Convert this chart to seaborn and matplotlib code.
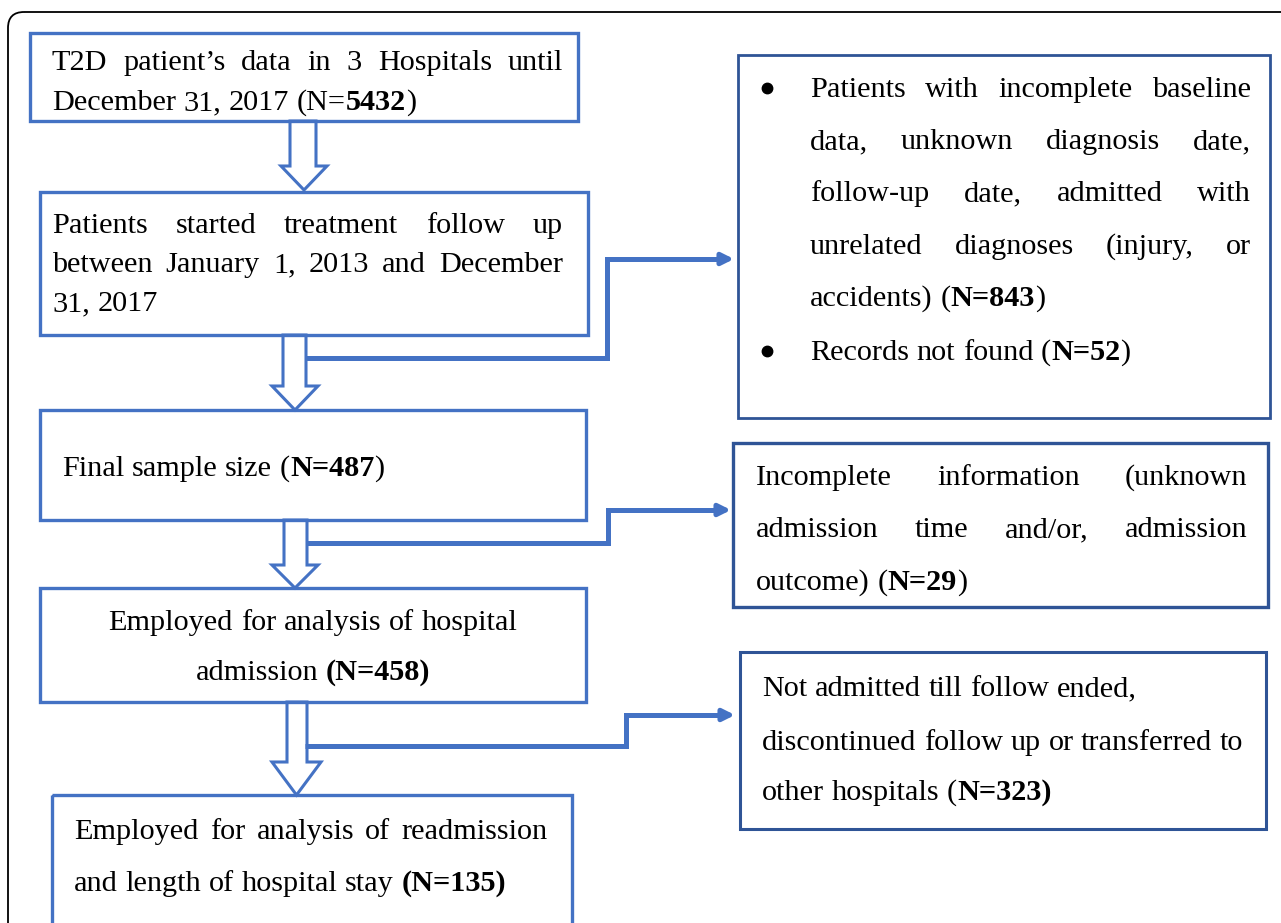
## T2D patient flow diagram

import matplotlib
matplotlib.use('Agg')
import matplotlib.pyplot as plt
import seaborn as sns
from matplotlib.patches import Rectangle, Polygon, FancyBboxPatch

# 단계별 인원수
n_total = 5432
n_excluded = 843
n_not_found = 52
n_final = 487
n_incomplete = 29
n_admission = 458
n_not_admitted = 323
n_readmission = 135

# 박스 텍스트 (** ... ** 는 굵게)
main_texts = [
    ["T2D patient\u2019s data in 3 Hospitals until",
     f"December 31, 2017 (N=**{n_total}**)"],
    ["Patients started treatment follow up",
     "between January 1, 2013 and December",
     "31, 2017"],
    [f"Final sample size (**N={n_final}**)"],
    ["Employed for analysis of hospital",
     f"admission **(N={n_admission})**"],
    ["Employed for analysis of readmission",
     f"and length of hospital stay **(N={n_readmission})**"],
]
side_texts = [
    ["Patients with incomplete baseline",
     "data, unknown diagnosis date,",
     "follow-up date, admitted with",
     "unrelated diagnoses (injury, or",
     f"accidents) (**N={n_excluded}**)",
     f"Records not found (**N={n_not_found}**)"],
    ["Incomplete information (unknown",
     "admission time and/or, admission",
     f"outcome) (**N={n_incomplete}**)"],
    ["Not admitted till follow ended,",
     "discontinued follow up or transferred to",
     f"other hospitals (**N={n_not_admitted})**"],
]

BLUE = '#4472C4'
DARK = '#2F5496'
SERIF = 'Liberation Serif'
FS = 21.8

sns.set_theme(style='white')
fig = plt.figure(figsize=(12.81, 9.23), dpi=100)
ax = fig.add_axes([0, 0, 1, 1])
ax.set_xlim(0, 1281)
ax.set_ylim(923, 0)
ax.axis('off')
renderer = fig.canvas.get_renderer()


def parse(s):
    parts = s.split('**')
    words = [[]]
    for i, p in enumerate(parts):
        bold = i % 2 == 1
        for j, c in enumerate(p.split(' ')):
            if j > 0:
                words.append([])
            if c:
                words[-1].append((c, bold))
    return [w for w in words if w]


def measure(txt, bold=False):
    t = ax.text(0, 0, txt, fontsize=FS, family=SERIF,
                weight='bold' if bold else 'normal')
    w = t.get_window_extent(renderer).width
    t.remove()
    return w


SPACE = measure('a a') - measure('aa')


def draw_line(line, x0, y, x1=None, align='left'):
    words = parse(line)
    widths = [sum(measure(p, b) for p, b in w) for w in words]
    total = sum(widths)
    gap = SPACE
    if align == 'justify' and len(words) > 1:
        gap = (x1 - x0 - total) / (len(words) - 1)
    x = x0
    if align == 'center':
        x = (x0 + x1) / 2 - (total + gap * (len(words) - 1)) / 2
    for w, wd in zip(words, widths):
        xx = x
        for p, b in w:
            ax.text(xx, y, p, fontsize=FS, family=SERIF, va='baseline',
                    ha='left', weight='bold' if b else 'normal', color='black')
            xx += measure(p, b)
        x += wd + gap


def draw_block(lines, x0, x1, baselines, justify=True, center=False):
    for k, (line, y) in enumerate(zip(lines, baselines)):
        if center:
            draw_line(line, x0, y, x1, align='center')
        elif justify and k < len(lines) - 1:
            draw_line(line, x0, y, x1, align='justify')
        else:
            draw_line(line, x0, y)


def box(x0, y0, x1, y1, color=BLUE, lw=2.4):
    ax.add_patch(Rectangle((x0, y0), x1 - x0, y1 - y0, fill=False,
                           edgecolor=color, lw=lw, zorder=3))


def down_arrow(sl, sr, hl, hr, top, hy, tip):
    cx = (hl + hr) / 2
    pts = [(sl, top), (sr, top), (sr, hy), (hr, hy), (cx, tip), (hl, hy), (sl, hy)]
    ax.add_patch(Polygon(pts, closed=True, facecolor='white',
                         edgecolor=BLUE, lw=2.2, zorder=2))


def connector(x0, y0, xm, ym, x1):
    # 꺾인 선 + 끝부분 화살촉
    ax.plot([x0, xm, xm, x1 - 12], [y0, y0, ym, ym], color=BLUE, lw=3.6, zorder=4,
            solid_joinstyle='miter', solid_capstyle='butt')
    ax.annotate('', xy=(x1, ym), xytext=(x1 - 16, ym),
                arrowprops=dict(arrowstyle='-|>', color=BLUE, lw=3.6,
                                mutation_scale=17, shrinkA=0, shrinkB=0),
                zorder=4)


# 바깥 테두리
ax.add_patch(FancyBboxPatch((8, 12), 1320, 950, boxstyle='round,pad=0,rounding_size=16',
                            fill=False, edgecolor='black', lw=1.3, zorder=1))

# 왼쪽 박스들
box(30, 33, 578, 121)
box(40, 192, 588, 335)
box(40, 410, 586, 520)
box(40, 588, 586, 702)
box(52, 795, 572, 960)

# 오른쪽 박스들
box(738, 55, 1270, 418, color=DARK, lw=2.0)
box(733, 443, 1268, 607, color=DARK, lw=2.4)
box(740, 652, 1266, 829, color=DARK, lw=2.2)

# 속이 빈 화살표
down_arrow(290, 316, 281, 327, 121, 166, 190)
down_arrow(283, 306, 272, 318, 335, 386, 410)
down_arrow(284, 307, 272, 318, 520, 565, 588)
down_arrow(287, 307, 272, 321, 702, 762, 795)

# 제외 연결선
connector(306, 358, 607, 259, 734)
connector(307, 543, 608, 510, 731)
connector(305, 746, 626, 715, 735)

# 텍스트
draw_block(main_texts[0], 52, 563, [70, 110])
draw_block(main_texts[1], 52, 563, [233, 272, 311])
draw_block(main_texts[2], 62, 563, [476])
draw_block(main_texts[3], 40, 586, [630, 680], center=True)
draw_block(main_texts[4], 74, 548, [839, 891])

draw_block(side_texts[0][:5], 810, 1251, [97, 149, 201, 254, 306])
draw_block(side_texts[0][5:], 810, 1251, [360])
ax.plot([767, 767], [88, 351], ls='none', marker='o', markersize=7.5,
        color='black', zorder=5)
draw_block(side_texts[1], 756, 1247, [485, 537, 590])
draw_block(side_texts[2], 762, 1247, [696, 750, 800], justify=False)

plt.savefig('out.png', dpi=100)
